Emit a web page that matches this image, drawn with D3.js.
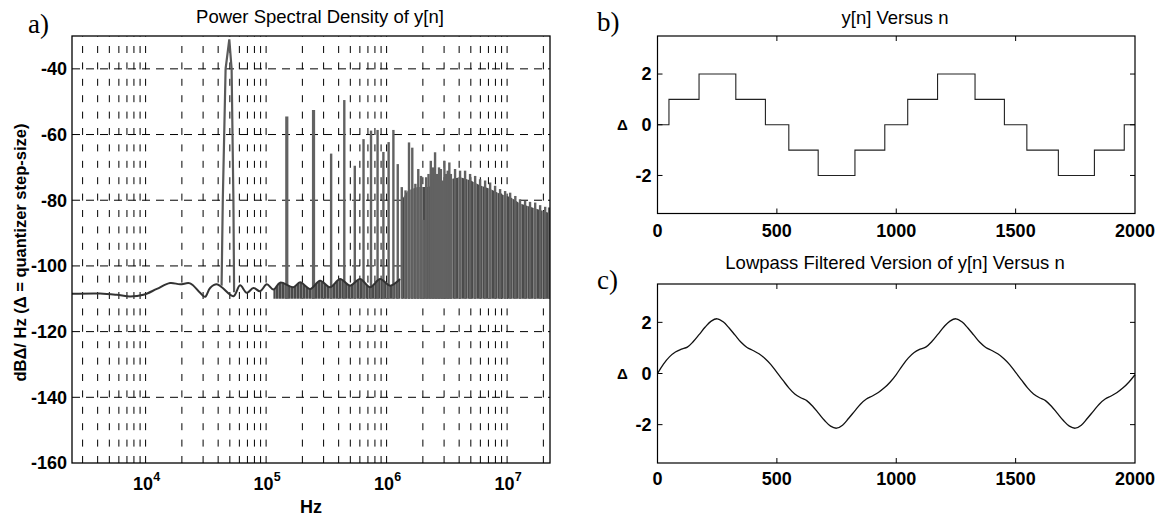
<!DOCTYPE html>
<html><head><meta charset="utf-8">
<script src="https://cdn.jsdelivr.net/npm/d3@7"></script>
<style>
body{margin:0;background:#fff;}
svg{display:block;}
text{font-family:"Liberation Sans",Arial,Helvetica,sans-serif;fill:#000;}
</style></head><body>
<svg id="chart" width="1159" height="518"></svg>
<script>
// ---------------- DATA ----------------
// Panel a: Power Spectral Density
const psdFreqDomain = [2450, 2.27e7];
const psdDbDomain = [-160, -30];
const psdDbTicks = [-160, -140, -120, -100, -80, -60, -40];
const psdFreqTicks = [1e4, 1e5, 1e6, 1e7];
const psdFreqTickExp = ["4", "5", "6", "7"];

// noise floor of the spectrum
const floorFreq = [2450, 4190, 5770, 7430, 9590, 12400, 15970, 19330, 23400, 28340, 31170, 34300, 38980, 42890,
  53550, 60830, 69150, 78450, 89170, 101300, 115000, 130700, 168500, 191500, 231800, 280600, 339700, 411300,
  497800, 602600, 729500, 883200, 1069000, 1294000];
const floorDb = [-108.5, -108.4, -108.8, -109.3, -108.8, -107.0, -105.2, -105.6, -105.3, -108.2, -109.4, -106.7, -105.6, -106.5,
  -109.2, -105.9, -108.2, -106.7, -107.7, -105.6, -107.2, -105.1, -106.5, -105.0, -107.0, -104.5, -106.5, -104.0,
  -106.0, -104.0, -106.5, -104.0, -106.0, -104.0];

// fundamental peak outline
const fundFreq = [42720, 43710, 46120, 49500, 51730, 53550, 54260];
const fundDb = [-106, -80, -40, -31, -40, -80, -108];

// harmonic spikes (tops)
const harmFreq = [148500, 247500, 346500, 445500, 544500, 643500, 742500, 841500, 940500, 1039500, 1138500,
  1237500, 1336500, 1435500, 1534500, 1633500, 1732500, 1831500, 1930500, 2029500, 2128500, 2227500, 2326500,
  2425500, 2524500, 2623500, 2722500, 2821500, 2920500, 3019500, 3118500, 3217500, 3316500, 3415500,
  3.70e6, 4.07e6, 4.48e6, 4.93e6, 5.43e6, 5.97e6, 6.57e6, 7.23e6, 7.95e6, 8.75e6, 9.63e6, 1.06e7, 1.17e7,
  1.28e7, 1.41e7, 1.55e7, 1.71e7, 1.88e7, 2.07e7, 2.23e7];
const harmDb = [-54.5, -52.5, -65.8, -49.5, -69.5, -61.4, -58.8, -58.6, -65.3, -62.3, -58.6,
  -69, -76, -77, -62.4, -64, -75, -70.5, -72.6, -86, -73, -72, -68,
  -70, -65.4, -72, -70, -70.5, -74, -68, -72, -71, -68.5, -72,
  -70.5, -71, -71, -72, -72.6, -73.6, -74, -74.6, -75.6, -76.6, -77.2, -77.7, -78.7,
  -79.7, -80.2, -80.5, -80.7, -81.5, -82, -82.2];

// dense band of harmonics (solid body top edge)
const bandFreq = [1.33e6, 1.5e6, 1.8e6, 2.2e6, 2.7e6, 3.4e6, 4.1e6, 5.0e6, 6.0e6, 7.2e6, 8.7e6, 1.06e7, 1.28e7, 1.55e7, 1.88e7, 2.27e7];
const bandTopDb = [-80, -77, -76, -76, -75, -73.5, -73, -74, -75.5, -76.5, -78, -79, -81, -82, -83, -84];
const bandBottomDb = -110;

// Panel b: y[n] staircase
const nDomain = [0, 2000];
const nTicks = [0, 500, 1000, 1500, 2000];
const ampDomain = [-3.5, 3.5];
const ampTicks = [-2, 0, 2];
const stepEdges = [0, 48, 174, 328, 452, 550, 673, 827, 952, 1048, 1173, 1330, 1453, 1547, 1679, 1830, 1955, 2000];
const stepLevels = [0, 1, 2, 1, 0, -1, -2, -1, 0, 1, 2, 1, 0, -1, -2, -1, 0, 0];

// Panel c: lowpass filtered y[n], sampled every 25 samples (n = 0..2000)
const filtVal = [
  0.00, 0.37, 0.65, 0.84, 0.95, 1.03, 1.25, 1.53, 1.82, 2.05,
  2.14, 2.02, 1.78, 1.50, 1.22, 1.02, 0.90, 0.77, 0.59, 0.35,
  0.04, -0.26, -0.56, -0.80, -0.95, -1.06, -1.28, -1.56, -1.84, -2.06,
  -2.14, -2.02, -1.76, -1.48, -1.20, -1.00, -0.88, -0.74, -0.56, -0.33,
  -0.04, 0.30, 0.60, 0.82, 0.95, 1.04, 1.26, 1.54, 1.83, 2.05,
  2.14, 2.02, 1.78, 1.50, 1.22, 1.02, 0.90, 0.77, 0.59, 0.35,
  0.04, -0.26, -0.56, -0.80, -0.95, -1.06, -1.28, -1.56, -1.84, -2.06,
  -2.14, -2.02, -1.76, -1.48, -1.20, -1.00, -0.88, -0.74, -0.56, -0.33,
  -0.05];
const filtStep = 25;

// ---------------- DRAW ----------------
const svg = d3.select("#chart");
const TICKFS = 18, TITLEFS = 18.5;

// hatch pattern for the dense harmonic band
const defs = svg.append("defs");
const pat = defs.append("pattern").attr("id", "hatch").attr("patternUnits", "userSpaceOnUse")
  .attr("width", 3).attr("height", 3);
pat.append("rect").attr("width", 3).attr("height", 3).attr("fill", "#4a4a4a");
pat.append("rect").attr("x", 2).attr("width", 1).attr("height", 3).attr("fill", "#808080");

// ===== Panel a =====
const A = {l: 72, r: 550, t: 36, b: 463};
const xA = d3.scaleLog().domain(psdFreqDomain).range([A.l, A.r]);
const yA = d3.scaleLinear().domain(psdDbDomain).range([A.b, A.t]);
const gA = svg.append("g");

// grid
const minorTicks = xA.ticks().filter(v => xA(v) > A.l + 1 && xA(v) < A.r - 1);
gA.append("g").selectAll("line").data(minorTicks).join("line")
  .attr("x1", d => xA(d)).attr("x2", d => xA(d))
  .attr("y1", A.b).attr("y2", A.t)
  .attr("stroke", "#000").attr("stroke-width", 1).attr("stroke-dasharray", "7,9.4");
gA.append("g").selectAll("line").data(psdDbTicks.filter(v => v > psdDbDomain[0])).join("line")
  .attr("x1", A.l).attr("x2", A.r)
  .attr("y1", d => yA(d)).attr("y2", d => yA(d))
  .attr("stroke", "#000").attr("stroke-width", 1).attr("stroke-dasharray", "8,6");

svg.append("clipPath").attr("id", "clipA").append("rect")
  .attr("x", A.l).attr("y", A.t).attr("width", A.r - A.l).attr("height", A.b - A.t);
const dA = gA.append("g").attr("clip-path", "url(#clipA)");

const floorPts = floorFreq.map((f, i) => [f, floorDb[i]]);
// low noisy band under floor at higher frequencies
const lowBand = floorPts.filter(p => p[0] >= 115000);
dA.append("path").datum(lowBand)
  .attr("d", d3.area().x(p => xA(p[0])).y0(yA(bandBottomDb)).y1(p => yA(p[1])))
  .attr("fill", "url(#hatch)");
// dense band
const bandPts = bandFreq.map((f, i) => [f, bandTopDb[i]]);
dA.append("path").datum(bandPts)
  .attr("d", d3.area().x(p => xA(p[0])).y0(yA(bandBottomDb)).y1(p => yA(p[1])))
  .attr("fill", "url(#hatch)");
// harmonic spikes
dA.append("g").selectAll("line").data(harmFreq.map((f, i) => [f, harmDb[i]])).join("line")
  .attr("x1", p => xA(p[0])).attr("x2", p => xA(p[0]))
  .attr("y1", yA(bandBottomDb)).attr("y2", p => yA(p[1]))
  .attr("stroke", "#626262").attr("stroke-width", p => p[0] < 3e5 ? 3.2 : 2.4);
// floor line
dA.append("path").datum(floorPts)
  .attr("d", d3.line().x(p => xA(p[0])).y(p => yA(p[1])).curve(d3.curveCatmullRom))
  .attr("fill", "none").attr("stroke", "#333").attr("stroke-width", 2);
// fundamental
dA.append("path").datum(fundFreq.map((f, i) => [f, fundDb[i]]))
  .attr("d", d3.line().x(p => xA(p[0])).y(p => yA(p[1])))
  .attr("fill", "none").attr("stroke", "#5a5a5a").attr("stroke-width", 2.2);

// box
gA.append("rect").attr("x", A.l).attr("y", A.t).attr("width", A.r - A.l).attr("height", A.b - A.t)
  .attr("fill", "none").attr("stroke", "#000").attr("stroke-width", 1.3);

// y tick labels
gA.append("g").selectAll("text").data(psdDbTicks).join("text")
  .attr("x", A.l - 5).attr("y", d => yA(d)).attr("dy", "0.35em")
  .attr("text-anchor", "end").attr("font-size", TICKFS).attr("font-weight", "bold")
  .text(d => d);
// x tick labels (10^k)
const xt = gA.append("g").selectAll("text").data(psdFreqTicks).join("text")
  .attr("x", d => xA(d) + 1).attr("y", 490)
  .attr("text-anchor", "middle").attr("font-size", TICKFS).attr("font-weight", "bold");
xt.append("tspan").text("10");
xt.append("tspan").attr("dy", -9).attr("font-size", 12.5).text((d, i) => psdFreqTickExp[i]);

// labels
gA.append("text").attr("x", (A.l + A.r) / 2).attr("y", 513).attr("text-anchor", "middle")
  .attr("font-size", 18).attr("font-weight", "bold").text("Hz");
gA.append("text").attr("transform", `translate(26,${(A.t + A.b) / 2 + 3}) rotate(-90)`)
  .attr("text-anchor", "middle").attr("font-size", 16.5).attr("font-weight", "bold")
  .text("dB\u0394/ Hz (\u0394 = quantizer step-size)");
gA.append("text").attr("x", 320).attr("y", 23).attr("text-anchor", "middle")
  .attr("font-size", TITLEFS).text("Power Spectral Density of y[n]");
svg.append("text").attr("x", 28).attr("y", 33)
  .style("font-family", "'Liberation Serif','Times New Roman',serif").attr("font-size", 27).text("a)");

// ===== Panels b and c =====
function smallPanel(box, title, titleY, label, labelY, tickY, drawFn) {
  const x = d3.scaleLinear().domain(nDomain).range([box.l, box.r]);
  const y = d3.scaleLinear().domain(ampDomain).range([box.b, box.t]);
  const g = svg.append("g");
  drawFn(g, x, y);
  g.append("rect").attr("x", box.l).attr("y", box.t).attr("width", box.r - box.l).attr("height", box.b - box.t)
    .attr("fill", "none").attr("stroke", "#000").attr("stroke-width", 1.2);
  const tl = 5;
  const inner = nTicks.filter(v => v > nDomain[0] && v < nDomain[1]);
  g.append("g").selectAll("line").data(inner).join("line")
    .attr("x1", d => x(d)).attr("x2", d => x(d)).attr("y1", box.b).attr("y2", box.b - tl)
    .attr("stroke", "#000");
  g.append("g").selectAll("line").data(inner).join("line")
    .attr("x1", d => x(d)).attr("x2", d => x(d)).attr("y1", box.t).attr("y2", box.t + tl)
    .attr("stroke", "#000");
  g.append("g").selectAll("line").data(ampTicks).join("line")
    .attr("x1", box.l).attr("x2", box.l + tl).attr("y1", d => y(d)).attr("y2", d => y(d))
    .attr("stroke", "#000");
  g.append("g").selectAll("line").data(ampTicks).join("line")
    .attr("x1", box.r).attr("x2", box.r - tl).attr("y1", d => y(d)).attr("y2", d => y(d))
    .attr("stroke", "#000");
  g.append("g").selectAll("text").data(nTicks).join("text")
    .attr("x", d => x(d)).attr("y", tickY).attr("text-anchor", "middle")
    .attr("font-size", TICKFS).attr("font-weight", "bold").text(d => d);
  g.append("g").selectAll("text").data(ampTicks).join("text")
    .attr("x", box.l - 6).attr("y", d => y(d)).attr("dy", "0.35em").attr("text-anchor", "end")
    .attr("font-size", TICKFS).attr("font-weight", "bold").text(d => d);
  g.append("text").attr("x", 622.5).attr("y", y(0)).attr("dy", "0.35em").attr("text-anchor", "middle")
    .attr("font-size", 15).attr("font-weight", "bold").text("\u0394");
  g.append("text").attr("x", 895).attr("y", titleY).attr("text-anchor", "middle")
    .attr("font-size", TITLEFS).text(title);
  svg.append("text").attr("x", 597).attr("y", labelY)
    .style("font-family", "'Liberation Serif','Times New Roman',serif").attr("font-size", 27).text(label);
}

const B = {l: 657.5, r: 1135, t: 36, b: 213.5};
smallPanel(B, "y[n] Versus n", 24, "b)", 31, 236.5, (g, x, y) => {
  g.append("path").datum(stepEdges.map((n, i) => [n, stepLevels[i]]))
    .attr("d", d3.line().x(p => x(p[0])).y(p => y(p[1])).curve(d3.curveStepAfter))
    .attr("fill", "none").attr("stroke", "#222").attr("stroke-width", 1.1);
});

const C = {l: 657.5, r: 1135, t: 284, b: 463};
smallPanel(C, "Lowpass Filtered Version of y[n] Versus n", 269, "c)", 289, 485, (g, x, y) => {
  g.append("path").datum(filtVal.map((v, i) => [i * filtStep, v]))
    .attr("d", d3.line().x(p => x(p[0])).y(p => y(p[1])).curve(d3.curveCatmullRom))
    .attr("fill", "none").attr("stroke", "#111").attr("stroke-width", 1.3);
});
</script>
</body></html>
